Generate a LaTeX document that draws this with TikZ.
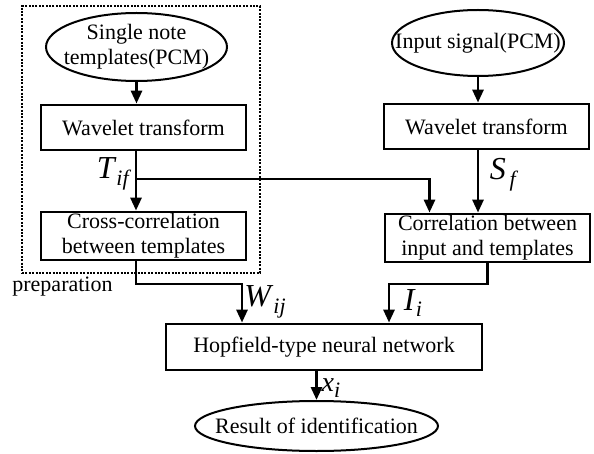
\documentclass[tikz,border=0pt]{standalone}
\usepackage{fontspec}
\setmainfont{Liberation Serif}
\usetikzlibrary{arrows.meta,calc,shapes.geometric}

\tikzset{
    caixa/.style={draw, line width=1.4pt, minimum width=102.5pt, minimum height=22.5pt, inner sep=0pt, align=center},
    elipse/.style={draw, ellipse, line width=1pt, inner sep=0pt},
    seta/.style={-{Triangle[length=6.5pt,width=5.5pt]}, line width=1.4pt},
    simb/.style={font=\fontsize{16}{18}\selectfont, inner sep=0pt},
    prepbox/.style={draw, line width=1.3pt, dash pattern=on 1pt off 0.7pt, minimum width=119pt, minimum height=133.5pt, inner sep=0pt}
}
\newcommand{\simbolo}[2]{\textit{#1}\raisebox{-0.45ex}{\fontsize{11}{12}\selectfont\textit{#2}}}

\begin{document}
\begin{tikzpicture}[x=0.5pt, y=-0.5pt, font=\fontsize{11}{12.5}\selectfont]
    \useasboundingbox (0,0) rectangle (594,454);

    %Preparação
    \node[prepbox] (prep) at (141,139.5) {};
    \node[anchor=west, inner sep=0pt] (prepl) at (12,287) {preparation};

    %Elipses
    \node[elipse, minimum width=90.5pt, minimum height=34pt, label={[align=center]center:Single note\\templates(PCM)}] (src1) at (136.5,47) {};
    \node[elipse, minimum width=86pt, minimum height=33pt, label={center:Input signal(PCM)}] (src2) at (478,43) {};
    \node[elipse, minimum width=121.5pt, minimum height=25pt, label={center:Result of identification}] (res) at (316.5,426) {};

    %Caixas
    \node[caixa] (wt1) at (143.5,127.5) {Wavelet transform};
    \node[caixa] (wt2) at (486.5,126.5) {Wavelet transform};
    \node[caixa, minimum height=24pt] (cc1) at (143.5,236) {Cross-correlation\\between templates};
    \node[caixa, minimum height=24pt] (cr2) at (487.5,238) {Correlation between\\input and templates};
    \node[caixa, minimum width=158pt, minimum height=23pt] (hop) at (324,347) {Hopfield-type neural network};

    %Pontos
    \coordinate (tap) at (136,179);
    \coordinate (wj) at (242,284);
    \coordinate (ii) at (389,284);

    %Flechas
    \draw[seta] (src1.south) -- (src1.south |- wt1.north);
    \draw[seta] (wt1.south -| tap) -- (cc1.north -| tap);
    \draw[seta] (tap) -| ($(cr2.north)+(-58,0)$);
    \draw[seta] (src2.south) -- (src2.south |- wt2.north);
    \draw[seta] (wt2.south -| src2.south) -- (cr2.north -| src2.south);
    \draw[seta] (cc1.south -| tap) |- (wj) -- (wj |- hop.north);
    \draw[seta] (cr2.south) |- (ii) -- (ii |- hop.north);
    \draw[seta] (res.north |- hop.south) -- (res.north);

    %Rótulos
    \node[simb] (tif) at (114,174) {\simbolo{T}{if}};
    \node[simb] (sf) at (504,175) {\simbolo{S}{\,f}};
    \node[simb] (wij) at (265,302) {\simbolo{W}{ij}};
    \node[simb] (iil) at (413,303) {\simbolo{I}{i}};
    \node[simb, font=\fontsize{14}{16}\selectfont] (xi) at (331,388) {\simbolo{x}{i}};
\end{tikzpicture}
\end{document}
